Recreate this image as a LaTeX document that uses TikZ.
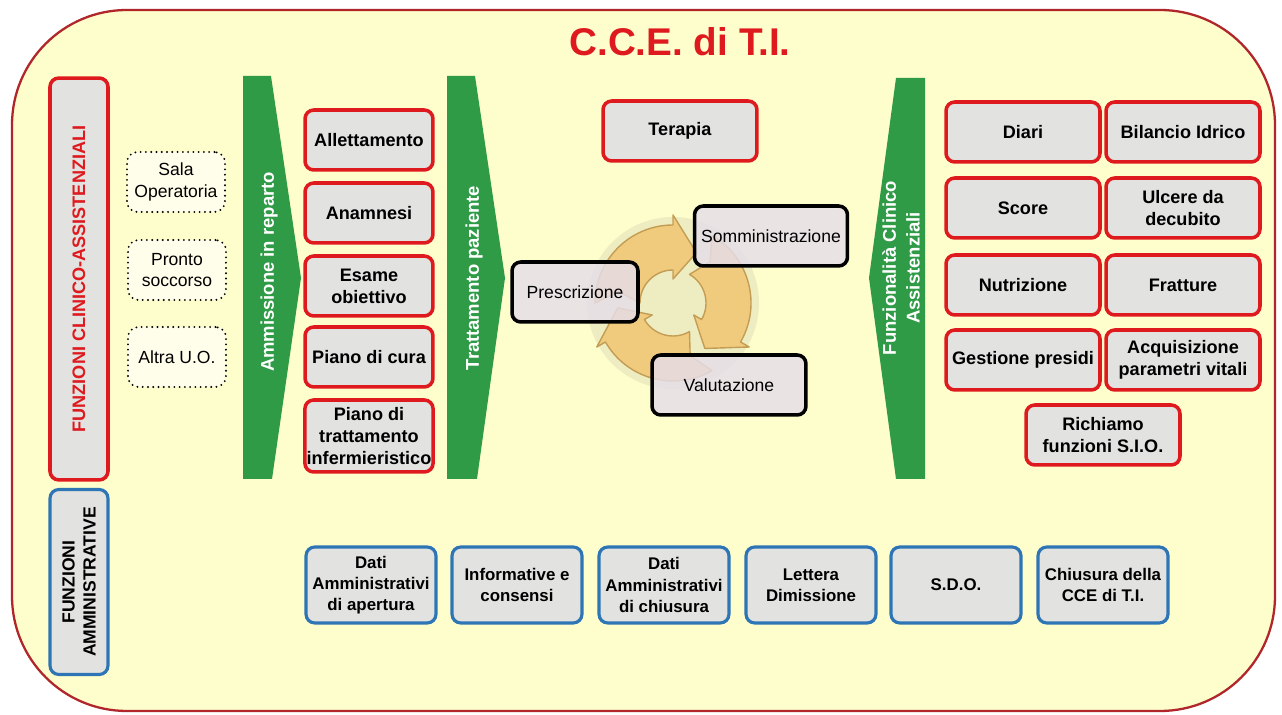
\documentclass[tikz,border=0pt]{standalone}
\usepackage{fontspec}
\setmainfont{Liberation Sans}
\usepackage{tikz}
\usetikzlibrary{calc}
\definecolor{frame}{HTML}{B0262A}
\definecolor{paper}{HTML}{FEFDCC}
\definecolor{redline}{HTML}{DE1A1E}
\definecolor{blueline}{HTML}{2E75B6}
\definecolor{boxgray}{HTML}{E2E2E0}
\definecolor{green}{HTML}{2F9B47}
\definecolor{lilac}{HTML}{E6DEEA}
\definecolor{tan}{HTML}{F0CB7E}
\definecolor{tandark}{HTML}{C49D55}
\tikzset{
  outer/.style={draw=frame, fill=paper, line width=1.3pt, rounded corners=2.3cm},
  ttl/.style={text=redline, font=\bfseries\fontsize{22}{26}\selectfont},
  rbox/.style={draw=redline, fill=boxgray, line width=2pt, rounded corners=5pt,
    align=center, inner sep=1pt, minimum height=1.2cm,
    font=\bfseries\fontsize{10.3}{12.5}\selectfont},
  bbox/.style={draw=blueline, fill=boxgray, line width=1.8pt, rounded corners=5pt,
    align=center, inner sep=1pt, minimum width=2.6cm, minimum height=1.52cm,
    font=\bfseries\fontsize{9.6}{12}\selectfont},
  src/.style={draw=black, fill=white!60!paper, line width=1.2pt, line cap=round,
    dash pattern=on 0pt off 3pt, rounded corners=6pt, align=center,
    minimum width=1.96cm, minimum height=1.2cm, font=\fontsize{10}{12}\selectfont},
  cyc/.style={draw=tandark, fill=tan, line width=0.8pt, line join=round},
  pbox/.style={draw=black, fill=lilac, fill opacity=0.82, text opacity=1,
    line width=2pt, rounded corners=5pt, minimum height=1.2cm,
    font=\fontsize{10}{12}\selectfont},
  chev/.style={fill=green},
  chevtxt/.style={text=white, rotate=90, align=center,
    font=\bfseries\fontsize{10.5}{13.5}\selectfont},
}

\begin{document}
\begin{tikzpicture}[x=0.02cm, y=-0.02cm]
  \useasboundingbox (0,0) rectangle (1282,715);
  \draw[outer] (12,10) rectangle (1275,711);
  \node[ttl] (title) at (680,42) {C.C.E. di T.I.};

  % left column
  \node[rbox, rotate=90, text=redline, minimum width=8.04cm, minimum height=1.16cm]
    (clin) at (79,279) {FUNZIONI CLINICO-ASSISTENZIALI};
  \node[bbox, rotate=90, minimum width=3.7cm, minimum height=1.16cm,
    font=\bfseries\fontsize{10}{12}\selectfont]
    (amm) at (79,582) {FUNZIONI\\AMMINISTRATIVE};

  % provenienza
  \node[src] (sala) at (176,182) {Sala\\Operatoria};
  \node[src] (pronto) at (177,270) {Pronto\\soccorso};
  \node[src] (altra) at (177,357) {Altra U.O.};

  % green chevrons
  \fill[chev] (243,76) -- (271,76) -- (301,278) -- (272,479) -- (243,479) -- cycle;
  \node[chevtxt] (adm) at (269,272) {Ammissione in reparto};
  \fill[chev] (447,76) -- (475,76) -- (505,278) -- (477,479) -- (447,479) -- cycle;
  \node[chevtxt] (tratt) at (474,278) {Trattamento paziente};
  \fill[chev] (925,78) -- (896,78) -- (869,278) -- (896,479) -- (925,479) -- cycle;
  \node[chevtxt] (funz) at (901,268) {Funzionalità Clinico\\Assistenziali};

  % ammissione
  \node[rbox, minimum width=2.56cm] (allet) at (369,140) {Allettamento};
  \node[rbox, minimum width=2.56cm] (anam) at (369,213) {Anamnesi};
  \node[rbox, minimum width=2.56cm] (esame) at (369,286) {Esame\\obiettivo};
  \node[rbox, minimum width=2.56cm] (cura) at (369,357) {Piano di cura};
  \node[rbox, minimum width=2.56cm, minimum height=1.44cm] (pti) at (369,436)
    {Piano di\\trattamento\\infermieristico};

  % terapia e ciclo
  \node[rbox, minimum width=3.08cm] (terapia) at (680,131) {Terapia};
  \pgfmathsetmacro{\ro}{78}
  \pgfmathsetmacro{\ri}{33}
  \pgfmathsetmacro{\rm}{55.5}
  \begin{scope}[shift={(673,303)}]
    \fill[gray, opacity=0.12] (0,0) circle (86);
    \foreach \t in {180,300,60}{
      \draw[cyc] (\t:\ro) arc[start angle=\t, end angle=\t+90, radius=\ro]
        -- ({\t+90}:{\ro+10}) -- ({\t+115}:\rm) -- ({\t+90}:{\ri-9})
        -- ({\t+90}:\ri) arc[start angle=\t+90, end angle=\t, radius=\ri]
        -- ({\t+12}:\rm) -- cycle;
    }
  \end{scope}
  \node[pbox, minimum width=2.52cm] (presc) at (575,292) {Prescrizione};
  \node[pbox, minimum width=3.06cm] (somm) at (771,236) {Somministrazione};
  \node[pbox, minimum width=3.08cm] (valut) at (729,385) {Valutazione};

  % funzionalita
  \node[rbox, minimum width=3.08cm] (diari) at (1023,132) {Diari};
  \node[rbox, minimum width=3.08cm] (bilancio) at (1183,132) {Bilancio Idrico};
  \node[rbox, minimum width=3.08cm] (score) at (1023,208) {Score};
  \node[rbox, minimum width=3.08cm] (ulcere) at (1183,208) {Ulcere da\\decubito};
  \node[rbox, minimum width=3.08cm] (nutri) at (1023,285) {Nutrizione};
  \node[rbox, minimum width=3.08cm] (fratt) at (1183,285) {Fratture};
  \node[rbox, minimum width=3.08cm] (presidi) at (1023,360) {Gestione presidi};
  \node[rbox, minimum width=3.08cm] (param) at (1183,360) {Acquisizione\\parametri vitali};
  \node[rbox, minimum width=3.08cm] (sio) at (1103,435) {Richiamo\\funzioni S.I.O.};

  % amministrative
  \node[bbox] (apert) at (371,585) {Dati\\Amministrativi\\di apertura};
  \node[bbox] (info) at (517,585) {Informative e\\consensi};
  \node[bbox] (chius) at (664,585) {Dati\\Amministrativi\\di chiusura};
  \node[bbox] (lett) at (811,585) {Lettera\\Dimissione};
  \node[bbox] (sdo) at (956,585) {S.D.O.};
  \node[bbox] (cce) at (1103,585) {Chiusura della\\CCE di T.I.};
\end{tikzpicture}
\end{document}
